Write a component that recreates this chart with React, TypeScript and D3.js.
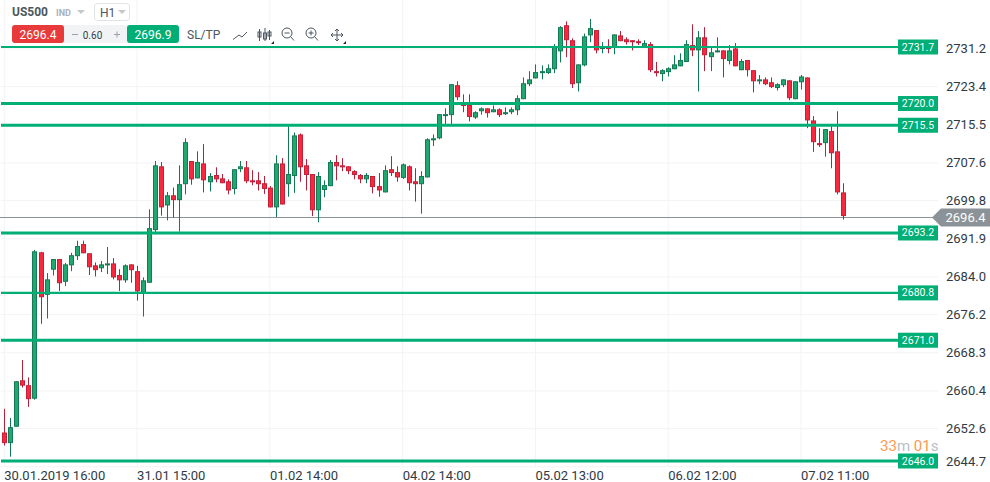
import React from "react";
import * as d3 from "d3";

const opens = [2651.9,2649.7,2653.1,2662.7,2661.7,2658.9,2689.2,2680.4,2685.6,2687.8,2683.1,2686.5,2688.4,2690.9,2689.0,2686.5,2685.9,2686.5,2686.9,2684.5,2683.4,2686.7,2685.3,2680.8,2682.9,2693.8,2707.0,2698.9,2701.0,2700.0,2703.3,2708.1,2704.5,2707.6,2703.7,2705.2,2704.5,2703.9,2702.3,2706.4,2706.8,2704.1,2704.1,2703.5,2702.6,2698.5,2707.6,2703.3,2705.0,2713.6,2707.2,2705.4,2697.9,2702.1,2702.9,2707.9,2707.2,2707.0,2706.0,2705.2,2704.3,2705.0,2702.9,2701.6,2706.4,2705.8,2704.6,2707.0,2703.9,2703.3,2704.7,2712.4,2712.8,2717.4,2717.6,2723.8,2719.9,2719.7,2717.1,2718.4,2719.0,2718.2,2718.8,2717.8,2718.2,2718.6,2720.9,2724.0,2725.2,2726.3,2726.3,2727.1,2730.8,2736.2,2733.1,2724.2,2727.9,2734.1,2735.2,2731.4,2731.7,2731.7,2734.1,2733.3,2733.1,2732.9,2731.7,2732.3,2726.7,2726.1,2726.5,2727.1,2727.7,2728.6,2732.1,2731.0,2733.7,2729.6,2730.6,2731.0,2728.8,2731.4,2726.9,2729.0,2726.9,2724.6,2725.0,2724.4,2723.2,2723.8,2724.8,2720.9,2724.4,2725.4,2716.5,2711.8,2711.8,2714.3,2710.1,2701.6];
const highs = [2656.8,2654.9,2662.5,2666.9,2663.3,2689.7,2689.3,2684.9,2687.8,2687.8,2687.0,2689.1,2691.6,2691.6,2689.0,2687.1,2687.4,2690.3,2688.0,2685.7,2686.7,2686.7,2686.4,2684.0,2698.1,2708.1,2707.9,2701.7,2702.6,2707.2,2712.8,2708.1,2710.1,2711.6,2705.6,2706.8,2705.4,2704.3,2706.4,2708.1,2708.1,2706.2,2705.8,2705.0,2702.9,2709.3,2708.7,2715.5,2714.0,2713.8,2708.5,2705.4,2705.8,2704.1,2708.3,2709.3,2708.7,2707.0,2706.2,2705.4,2705.6,2705.0,2705.6,2707.2,2709.1,2707.0,2707.6,2707.2,2706.6,2706.0,2712.8,2713.6,2717.8,2719.0,2724.0,2724.6,2721.9,2721.9,2718.4,2719.2,2719.0,2719.6,2719.0,2719.2,2719.2,2721.7,2725.4,2726.7,2728.1,2727.9,2728.1,2732.3,2736.0,2737.0,2733.5,2728.1,2734.5,2737.5,2735.2,2732.7,2733.3,2734.3,2735.0,2733.7,2733.1,2733.3,2733.1,2732.7,2728.6,2727.1,2727.5,2730.0,2730.4,2733.1,2736.4,2735.0,2735.8,2731.7,2733.7,2731.0,2732.1,2732.5,2729.2,2729.0,2726.9,2725.9,2725.4,2725.4,2724.2,2725.0,2724.8,2724.6,2725.9,2725.4,2717.4,2714.9,2714.7,2715.3,2718.4,2703.5];
const lows = [2649.2,2646.9,2653.1,2661.2,2657.2,2658.7,2674.4,2675.5,2684.4,2681.2,2682.2,2685.3,2687.6,2689.0,2684.5,2684.2,2685.1,2684.7,2683.6,2681.2,2682.9,2682.9,2679.2,2675.9,2682.9,2692.9,2696.8,2695.8,2696.4,2693.5,2701.2,2703.2,2704.5,2701.6,2701.8,2703.7,2703.5,2701.2,2701.2,2705.8,2703.5,2703.1,2702.0,2701.3,2698.5,2696.5,2699.1,2700.7,2701.5,2703.8,2702.0,2696.7,2695.4,2700.6,2702.9,2704.1,2706.0,2705.4,2704.3,2703.5,2703.5,2701.4,2700.7,2701.6,2705.0,2703.8,2704.4,2702.0,2699.7,2697.2,2704.7,2711.2,2712.6,2715.7,2715.7,2720.7,2718.2,2716.3,2716.8,2717.7,2717.1,2718.2,2717.2,2717.6,2717.8,2717.6,2720.9,2723.6,2725.2,2725.0,2726.1,2726.3,2728.5,2729.6,2723.2,2722.5,2727.7,2732.7,2730.4,2730.4,2730.4,2730.2,2732.9,2732.2,2731.0,2732.1,2731.7,2726.5,2725.6,2724.6,2725.6,2727.1,2727.7,2728.6,2729.8,2722.5,2726.7,2726.7,2730.6,2725.4,2728.1,2727.7,2726.9,2725.6,2722.3,2724.0,2723.8,2723.2,2722.7,2723.4,2720.7,2720.9,2722.9,2714.9,2710.0,2711.0,2709.0,2706.6,2701.2,2696.0];
const closes = [2649.7,2653.0,2662.5,2661.6,2658.8,2689.4,2679.9,2683.6,2687.8,2682.8,2686.7,2688.6,2690.5,2689.0,2686.1,2685.5,2686.7,2686.9,2684.0,2683.4,2686.5,2685.5,2681.1,2683.4,2694.2,2707.2,2698.5,2701.0,2700.0,2703.3,2712.0,2704.3,2707.9,2704.1,2705.0,2704.3,2703.5,2702.0,2706.4,2707.0,2703.9,2703.7,2703.3,2702.3,2698.5,2707.6,2699.1,2705.4,2713.4,2706.8,2705.2,2697.9,2705.0,2703.1,2707.9,2707.0,2706.8,2706.0,2705.2,2704.3,2705.2,2702.7,2702.0,2706.2,2705.6,2704.7,2707.4,2703.5,2703.3,2705.0,2712.6,2712.8,2717.8,2717.8,2724.0,2721.3,2719.5,2717.2,2718.2,2719.0,2718.0,2718.8,2717.6,2718.2,2718.8,2721.1,2724.2,2725.0,2726.5,2726.7,2727.3,2731.7,2735.8,2733.1,2724.0,2728.1,2733.9,2735.6,2731.0,2731.7,2731.4,2734.3,2732.9,2732.7,2732.7,2732.5,2732.5,2726.9,2726.3,2726.9,2727.3,2728.1,2729.0,2732.3,2731.0,2733.7,2730.0,2730.6,2731.0,2729.2,2731.0,2727.7,2728.8,2726.9,2724.6,2725.0,2724.0,2723.4,2724.0,2725.0,2721.1,2724.6,2725.6,2716.5,2712.0,2711.4,2714.7,2709.7,2701.6,2696.7];

const priceTicks = [2731.2,2723.4,2715.5,2707.6,2699.8,2691.9,2684.0,2676.2,2668.3,2660.4,2652.6,2644.7];
const levels = [2731.7,2720.0,2715.5,2693.2,2680.8,2671.0,2646.0];
const timeLabels = ["30.01.2019 16:00","31.01 15:00","01.02 14:00","04.02 14:00","05.02 13:00","06.02 12:00","07.02 11:00"];
const timeTickIndex = [0,22,44,66,88,110,132];
const lastPrice = 2696.4;

const GREEN = "#00ae76";
const FONT = "Roboto, sans-serif";

export default function App() {
  const x = d3.scaleLinear().domain([0, 139]).range([4.3, 843.3]);
  const y = d3.scaleLinear().domain([2646, 2731.7]).range([461, 47]);
  const yLast = Math.floor(y(lastPrice) - 0.5) + 0.5;

  return (
    <svg width={990} height={482} style={{ position: "absolute", left: 0, top: 0, background: "#fff" }} fontFamily={FONT}>
      {/* grid */}
      {priceTicks.map((t) => (
        <line key={t} x1={1} x2={938} y1={y(t) - 0.5} y2={y(t) - 0.5} stroke="#f2f3f4" strokeWidth={1} />
      ))}
      {timeTickIndex.map((i) => (
        <line key={i} x1={x(i)} x2={x(i)} y1={0} y2={466} stroke="#f2f3f4" strokeWidth={1} />
      ))}

      <line x1={0} x2={934} y1={yLast} y2={yLast} stroke="#8b9398" strokeWidth={1} />

      {/* candles */}
      {opens.map((o, i) => {
        const c = closes[i];
        const up = c >= o;
        const top = y(Math.max(o, c));
        const bottom = y(Math.min(o, c));
        const cx = Math.round(x(i)) + 0.5;
        return (
          <g key={i}>
            <line x1={cx} x2={cx} y1={y(highs[i])} y2={y(lows[i])} stroke={up ? "#0f7a52" : "#b3213a"} strokeWidth={1} />
            <rect
              x={cx - 2}
              y={top + 0.5}
              width={4}
              height={Math.max(bottom - top - 1, 1)}
              fill={up ? "#1fa970" : "#f9283e"}
              stroke={up ? "#137a55" : "#c4203a"}
              strokeWidth={1}
            />
          </g>
        );
      })}

      {/* horizontal levels */}
      {levels.map((l) => (
        <g key={l}>
          <line x1={1} x2={898} y1={y(l)} y2={y(l)} stroke={GREEN} strokeWidth={l === 2731.7 || l === 2680.8 ? 2.2 : 3} />
          <rect x={898} y={y(l) - 7.5} width={40} height={15} fill={GREEN} />
          <text x={918} y={y(l) + 3.5} fontSize={10.5} fill="#fff" textAnchor="middle">{l.toFixed(1)}</text>
        </g>
      ))}

      {/* price axis */}
      {priceTicks.map((t) => (
        <text key={t} x={946} y={Math.min(y(t), 462) + 3.5} fontSize={13} fill="#2f3a45">{t.toFixed(1)}</text>
      ))}
      <path d={`M932,${yLast} L941,${yLast - 9} H990 V${yLast + 9} H941 Z`} fill="#8b9398" />
      <text x={945.5} y={yLast + 4.5} fontSize={13} fill="#fff">{lastPrice.toFixed(1)}</text>

      {/* time axis */}
      {timeLabels.map((t, i) => (
        <text key={t} x={x(timeTickIndex[i])} y={480} fontSize={13} fill="#2f3a45">{t}</text>
      ))}

      {/* countdown */}
      <text x={880} y={451} fontSize={15} fill="#fd9a4f">
        33<tspan fill="#b9c0c6">m</tspan> 01<tspan fill="#b9c0c6">s</tspan>
      </text>

      {/* toolbar */}
      <rect x={10} y={24} width={336} height={21} fill="#fff" />
      <text x={12} y={16} fontSize={12} fontWeight={700} fill="#4b5660">US500</text>
      <text x={56} y={15.5} fontSize={9} fontWeight={700} fill="#aab1b7">IND</text>
      <path d="M77,10 H85 L81,14 Z" fill="#c3c8cc" />
      <rect x={94.5} y={3.5} width={35} height={17} rx={3} fill="#fff" stroke="#e1e4e6" />
      <text x={100} y={17} fontSize={12} fill="#4b5660">H1</text>
      <path d="M118,10 H126 L122,14 Z" fill="#c3c8cc" />

      <rect x={12} y={25} width={167} height={18} rx={3} fill="#f1f3f5" />
      <rect x={12} y={25} width={52} height={18} rx={3} fill="#e83a3a" />
      <rect x={127} y={25} width={52} height={18} rx={3} fill={GREEN} />
      <text x={38} y={38.5} fontSize={12} fill="#fff" textAnchor="middle">2696.4</text>
      <text x={153} y={38.5} fontSize={12} fill="#fff" textAnchor="middle">2696.9</text>
      <text x={92.5} y={38.5} fontSize={10} fill="#333d47" textAnchor="middle">0.60</text>
      <path d="M72,34.5 H78 M114,34.5 H120 M117,31.5 V37.5" stroke="#9aa2a8" fill="none" />
      <text x={187} y={39} fontSize={12} fill="#4b5660">SL/TP</text>

      {/* toolbar icons */}
      <g fill="none" stroke="#4b5660" strokeWidth={1}>
        <path d="M233,39.5 L239,35 L242,37 L247,32" />
        <path d="M259.5,29 V41 M265,28 V41 M269.5,30 V40" />
        <rect x={258} y={32} width={3} height={5} />
        <rect x={263.5} y={33} width={3} height={6} />
        <rect x={268} y={32} width={3} height={4} />
        <circle cx={287} cy={33} r={5} />
        <path d="M290.5,36.5 L294,40.5 M284.5,33 H289.5" />
        <circle cx={311} cy={33} r={5} />
        <path d="M314.5,36.5 L318,40.5 M308.5,33 H313.5 M311,30.5 V35.5" />
        <path d="M337,29 V41 M331,35 H343 M335,31 L337,29 L339,31 M335,39 L337,41 L339,39 M333,33 L331,35 L333,37 M341,33 L343,35 L341,37" />
      </g>
      <path d="M274,41 V44 H271 Z M346,41 V44 H343 Z" fill="#222" />
    </svg>
  );
}
